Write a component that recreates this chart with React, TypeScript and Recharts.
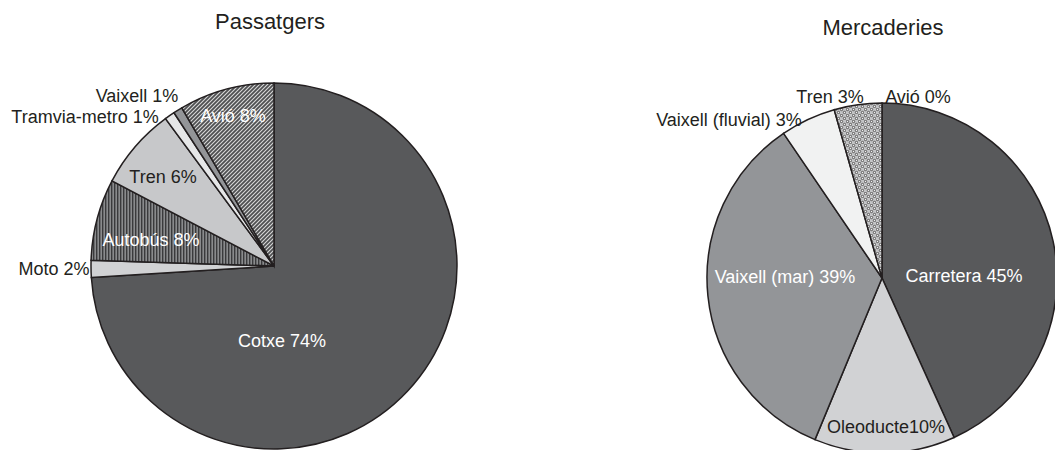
import { PieChart, Pie, Cell } from "recharts";

// Passatgers (clockwise from 12 o'clock)
const passNames = ["Cotxe", "Moto", "Autobús", "Tren", "Tramvia-metro", "Vaixell", "Avió"];
const passValues = [74.0, 1.5, 7.2, 7.2, 0.9, 0.8, 8.4];
const passLabels = ["Cotxe 74%", "Moto 2%", "Autobús 8%", "Tren 6%", "Tramvia-metro 1%", "Vaixell 1%", "Avió 8%"];

// Mercaderies
const goodsNames = ["Carretera", "Oleoducte", "Vaixell (mar)", "Vaixell (fluvial)", "Tren", "Avió"];
const goodsValues = [43.2, 13.0, 34.2, 5.1, 4.4, 0];
const goodsLabels = ["Carretera 45%", "Oleoducte10%", "Vaixell (mar) 39%", "Vaixell (fluvial) 3%", "Tren 3%", "Avió 0%"];

const passData = passNames.map((name, i) => ({ name, value: passValues[i] }));
const goodsData = goodsNames.map((name, i) => ({ name, value: goodsValues[i] }));

// styling / layout
const passFills = ["#58595b", "#d1d2d4", "url(#vstripe)", "#c7c8ca", "#e6e7e8", "#939598", "url(#hatch)"];
const passText = ["#fff", "#231f20", "#fff", "#231f20", "#231f20", "#231f20", "#fff"];
const passOffsets = [[8, 75], [-220, 3], [-123, -26], [-111, -89], [-189, -149], [-137, -170], [-41, -150]];

const goodsFills = ["#58595b", "#d1d2d4", "#939598", "#f1f2f2", "url(#dots)", "#bcbec0"];
const goodsText = ["#fff", "#231f20", "#fff", "#231f20", "#231f20", "#231f20"];
const goodsOffsets = [[82, -2], [4, 149], [-97, -1], [-153, -158], [-52, -181], [36, -181]];

const FONT = "'Liberation Sans', Arial, sans-serif";

const makeLabel = (labels: string[], offsets: number[][], colors: string[]) => (props: any) => {
  const { cx, cy, index } = props;
  const [dx, dy] = offsets[index];
  return (
    <text
      key={index}
      x={cx + dx}
      y={cy + dy}
      textAnchor="middle"
      dominantBaseline="central"
      fill={colors[index]}
      fontSize={18}
      fontFamily={FONT}
    >
      {labels[index]}
    </text>
  );
};

export default function App() {
  return (
    <div style={{ position: "absolute", left: 0, top: 0, width: 1055, height: 450, background: "#fff", overflow: "hidden" }}>
      <svg width={0} height={0} style={{ position: "absolute" }}>
        <defs>
          <pattern id="vstripe" width={3} height={6} patternUnits="userSpaceOnUse">
            <rect width={3} height={6} fill="#8a8b8d" />
            <rect width={1.4} height={6} fill="#3a3a3c" />
          </pattern>
          <pattern id="hatch" width={4} height={4} patternUnits="userSpaceOnUse">
            <rect width={4} height={4} fill="#4e4f51" />
            <path d="M-1,5 L5,-1 M-1,1 L1,-1 M3,5 L5,3" stroke="#d8d8d8" strokeWidth={1.1} />
          </pattern>
          <pattern id="dots" width={6} height={6} patternUnits="userSpaceOnUse">
            <rect width={6} height={6} fill="#c4c5c7" />
            <circle cx={1.5} cy={1.5} r={1.2} fill="#f1f2f2" stroke="#231f20" strokeWidth={0.7} />
            <circle cx={4.5} cy={4.5} r={1.2} fill="#f1f2f2" stroke="#231f20" strokeWidth={0.7} />
          </pattern>
        </defs>
      </svg>
      <PieChart
        width={1055}
        height={450}
        margin={{ top: 0, right: 0, bottom: 0, left: 0 }}
        style={{ position: "absolute", left: 0, top: 0 }}
      >
        <Pie
          data={passData}
          dataKey="value"
          nameKey="name"
          cx={274}
          cy={266}
          outerRadius={183}
          startAngle={90}
          endAngle={-270}
          stroke="#231f20"
          strokeWidth={1.5}
          label={makeLabel(passLabels, passOffsets, passText)}
          labelLine={false}
          isAnimationActive={false}
        >
          {passData.map((d, i) => (
            <Cell key={d.name} fill={passFills[i]} />
          ))}
        </Pie>
        <Pie
          data={goodsData}
          dataKey="value"
          nameKey="name"
          cx={882}
          cy={278}
          outerRadius={175}
          startAngle={90}
          endAngle={-270}
          stroke="#231f20"
          strokeWidth={1.5}
          label={makeLabel(goodsLabels, goodsOffsets, goodsText)}
          labelLine={false}
          isAnimationActive={false}
        >
          {goodsData.map((d, i) => (
            <Cell key={d.name} fill={goodsFills[i]} />
          ))}
        </Pie>
      </PieChart>
      <svg width={1055} height={450} style={{ position: "absolute", left: 0, top: 0, pointerEvents: "none" }}>
        <text x={270} y={29} textAnchor="middle" fontSize={22} fill="#231f20" fontFamily={FONT}>
          Passatgers
        </text>
        <text x={883} y={35} textAnchor="middle" fontSize={22} fill="#231f20" fontFamily={FONT}>
          Mercaderies
        </text>
      </svg>
    </div>
  );
}
